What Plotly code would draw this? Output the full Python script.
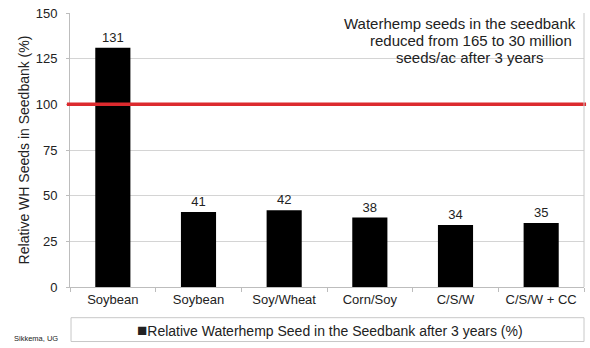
import plotly.graph_objects as go

categories = ["Soybean", "Soybean ", "Soy/Wheat", "Corn/Soy", "C/S/W", "C/S/W + CC"]
tick_labels = ["Soybean", "Soybean", "Soy/Wheat", "Corn/Soy", "C/S/W", "C/S/W + CC"]
values = [131, 41, 42, 38, 34, 35]
series_name = "Relative Waterhemp Seed in the Seedbank after 3 years (%)"
reference_level = 100
y_ticks = [0, 25, 50, 75, 100, 125, 150]
note_lines = ["Waterhemp seeds in the seedbank",
              "reduced from 165 to 30 million",
              "seeds/ac after 3 years"]
source_text = "Sikkema, UG"

FONT = "Liberation Sans, Arial, sans-serif"
TXT = "#222222"

fig = go.Figure()
fig.add_trace(go.Bar(
    x=categories, y=values, name=series_name,
    marker=dict(color="#000000", line=dict(width=0)),
    width=0.41,
    text=[str(v) for v in values], textposition="outside",
    textfont=dict(size=13, color=TXT, family=FONT),
    cliponaxis=False,
    showlegend=False,
))

fig.add_shape(type="line", xref="paper", yref="y", x0=-0.006, x1=1.004,
              y0=reference_level, y1=reference_level,
              line=dict(color="#dc2a2e", width=3.5))

# legend box
fig.add_shape(type="rect", xref="paper", yref="paper", x0=0.002, x1=1.0,
              y0=-0.199, y1=-0.112, line=dict(color="#c8c8c8", width=1),
              fillcolor="rgba(0,0,0,0)")
fig.add_annotation(xref="paper", yref="paper", x=0.505, y=-0.157,
                   xanchor="center", yanchor="middle", showarrow=False,
                   text='<span style="font-size:17px">■</span>' + series_name,
                   font=dict(size=14, color=TXT, family=FONT))

note_x = [0.759, 0.780, 0.779]
note_y = [0.962, 0.899, 0.836]
for t, nx, ny in zip(note_lines, note_x, note_y):
    fig.add_annotation(xref="paper", yref="paper", x=nx, y=ny,
                       xanchor="center", yanchor="middle", showarrow=False,
                       text=t, font=dict(size=15, color=TXT, family=FONT))

fig.add_annotation(xref="paper", yref="paper", x=-0.113, y=-0.188,
                   xanchor="left", yanchor="middle", showarrow=False,
                   text=source_text, font=dict(size=7.5, color=TXT, family=FONT))

fig.update_layout(
    width=590, height=348,
    margin=dict(l=70, r=6, t=10, b=61),
    paper_bgcolor="white", plot_bgcolor="white",
    font=dict(family=FONT, size=13, color=TXT),
    showlegend=False,
    xaxis=dict(tickmode="array", tickvals=categories, ticktext=tick_labels,
               showline=True, linecolor="#bdbdbd", linewidth=1,
               ticks="outside", ticklen=4, tickcolor="#bdbdbd", tickson="boundaries",
               showgrid=False, tickfont=dict(size=13, color=TXT)),
    yaxis=dict(range=[0, 150], tickvals=y_ticks, showline=True, linecolor="#bdbdbd",
               linewidth=1, ticks="outside", ticklen=3, tickcolor="#bdbdbd",
               ticklabelstandoff=6,
               showgrid=True, gridcolor="#d4d4d4", gridwidth=1,
               zeroline=False, tickfont=dict(size=13, color=TXT),
               title=dict(text="Relative WH Seeds in Seedbank (%)",
                          font=dict(size=14, color=TXT), standoff=2)),
)
# right border of plot area
fig.add_shape(type="line", xref="paper", yref="paper", x0=1, x1=1, y0=0, y1=1,
              line=dict(color="#c8c8c8", width=1))

fig.write_html("out.html")
